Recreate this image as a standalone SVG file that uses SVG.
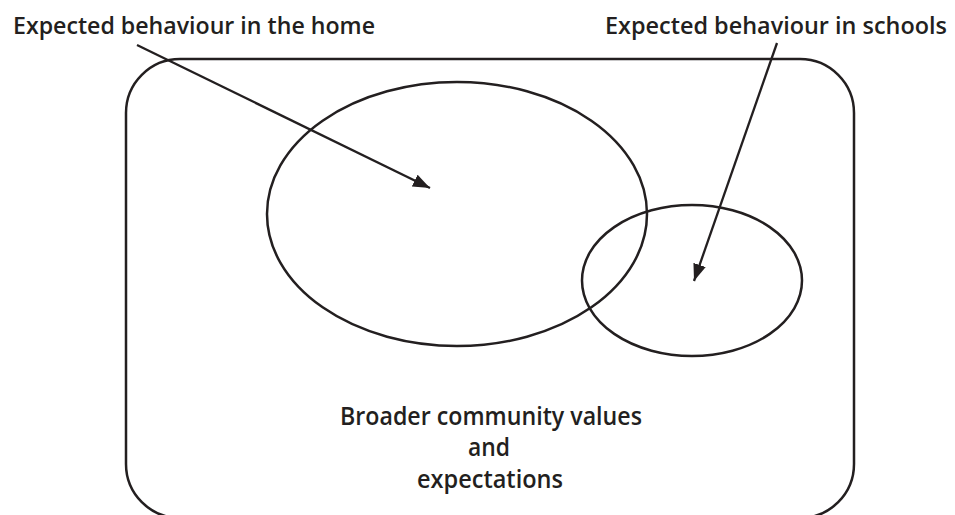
<svg xmlns="http://www.w3.org/2000/svg" width="955" height="515" viewBox="0 0 955 515">
  <style>
    .outline { fill: none; stroke: #231f20; stroke-width: 2.5; }
    .link { fill: none; stroke: #231f20; stroke-width: 2.3; }
    .label { font-family: "Open Sans", "Noto Sans", "Liberation Sans", sans-serif; font-weight: 600; fill: #231f20; }
    .top { font-size: 24px; }
    .mid { font-size: 25px; text-anchor: middle; }
  </style>
  <defs>
    <marker id="head" markerUnits="userSpaceOnUse" markerWidth="17" markerHeight="13" refX="17" refY="6.5" orient="auto">
      <path d="M0,0 L17,6.5 L0,13 z" fill="#231f20"/>
    </marker>
  </defs>
  <rect width="955" height="515" fill="#ffffff"/>

  <!-- community: outer rounded frame with its caption -->
  <g id="community">
    <rect class="outline" x="126" y="59" width="728" height="459" rx="54" ry="54"/>
    <text class="label mid" x="491" y="425" textLength="302" lengthAdjust="spacingAndGlyphs">Broader community values</text>
    <text class="label mid" x="489" y="456" textLength="42" lengthAdjust="spacingAndGlyphs">and</text>
    <text class="label mid" x="490" y="488" textLength="146" lengthAdjust="spacingAndGlyphs">expectations</text>
  </g>

  <!-- home: large ellipse -->
  <g id="home">
    <ellipse class="outline" cx="457" cy="214" rx="190" ry="132"/>
  </g>

  <!-- school: smaller overlapping ellipse -->
  <g id="school">
    <ellipse class="outline" cx="692" cy="280.5" rx="110" ry="75.5"/>
  </g>

  <!-- headings -->
  <g id="home-label">
    <text class="label top" x="13" y="34" textLength="362" lengthAdjust="spacingAndGlyphs">Expected behaviour in the home</text>
  </g>
  <g id="school-label">
    <text class="label top" x="605" y="34" textLength="342" lengthAdjust="spacingAndGlyphs">Expected behaviour in schools</text>
  </g>

  <!-- pointers from headings into the ellipses -->
  <g id="connectors">
    <line class="link" x1="137" y1="45" x2="430" y2="188" marker-end="url(#head)"/>
    <line class="link" x1="777" y1="43" x2="694" y2="281" marker-end="url(#head)"/>
  </g>
</svg>
